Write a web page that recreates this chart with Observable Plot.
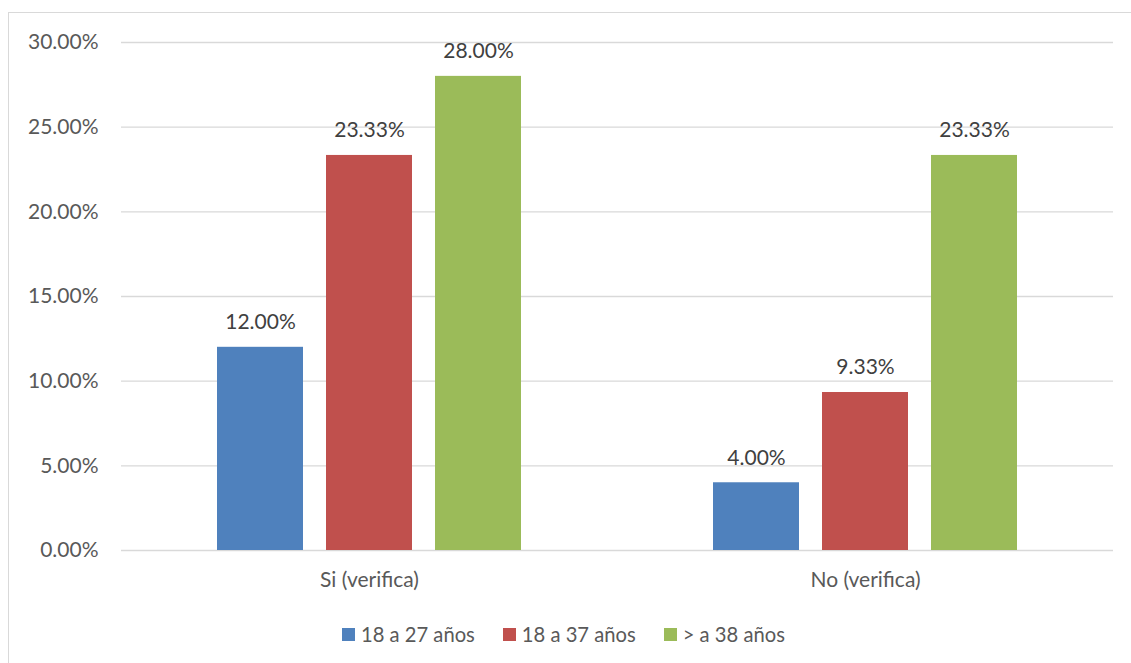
<!DOCTYPE html>
<html><head><meta charset="utf-8">
<script src="https://cdn.jsdelivr.net/npm/d3@7"></script>
<script src="https://cdn.jsdelivr.net/npm/@observablehq/plot@0.6"></script>
<style>
body{margin:0;background:#fff;}
#wrap{position:relative;width:1131px;height:663px;overflow:hidden;font-family:Lato,sans-serif;}
#frame{position:absolute;left:8px;top:12px;width:1200px;height:700px;border:1px solid #D9D9D9;box-sizing:border-box;}
#chart{position:absolute;left:0;top:0;}
#legend{position:absolute;top:622px;left:342px;display:flex;align-items:center;font-size:20.2px;color:#595959;white-space:nowrap;}
.item{display:flex;align-items:center;margin-right:28px;}
.sw{width:13px;height:13px;margin-right:6px;}
</style></head>
<body>
<div id="wrap"><div id="frame"></div><div id="chart"></div><div id="legend"></div></div>
<script>
const categories = ["Si (verifica)", "No (verifica)"];
const series = ["18 a 27 años", "18 a 37 años", "> a 38 años"];
const values18a27 = [12.00, 4.00];
const values18a37 = [23.33, 9.33];
const valuesMas38 = [28.00, 23.33];
const colors = ["#4F81BD", "#C0504D", "#9BBB59"];
const yTicks = [0, 5, 10, 15, 20, 25, 30];

const seriesValues = [values18a27, values18a37, valuesMas38];
const data = [];
categories.forEach((c, i) => series.forEach((s, j) => data.push({category: c, series: s, value: seriesValues[j][i]})));

const fmt = d => d.toFixed(2) + "%";

const chart = Plot.plot({
  width: 1131, height: 600,
  marginLeft: 120, marginRight: 18, marginTop: 42, marginBottom: 50,
  style: {fontFamily: "Lato, sans-serif", fontSize: "21px", color: "#595959", background: "transparent", overflow: "visible"},
  fx: {domain: categories, padding: 0, label: null, axis: "bottom", tickSize: 0, tickPadding: 22},
  x: {domain: series, axis: null, paddingInner: 0.209, paddingOuter: 0.861},
  y: {domain: [0, 30], ticks: yTicks, tickFormat: fmt, tickSize: 0, tickPadding: 23, label: null},
  color: {domain: series, range: colors},
  marks: [
    Plot.ruleY(yTicks, {stroke: "#D9D9D9", strokeWidth: 1.3}),
    Plot.barY(data, {fx: "category", x: "series", y: "value", fill: "series"}),
    Plot.text(data, {fx: "category", x: "series", y: "value", text: d => fmt(d.value), dy: -25, lineAnchor: "middle", fill: "#404040", fontSize: 21})
  ]
});
document.getElementById("chart").appendChild(chart);

const legend = document.getElementById("legend");
series.forEach((s, i) => {
  const it = document.createElement("div");
  it.className = "item";
  const sw = document.createElement("div");
  sw.className = "sw";
  sw.style.background = colors[i];
  const t = document.createElement("span");
  t.textContent = s;
  it.appendChild(sw); it.appendChild(t);
  legend.appendChild(it);
});
</script>
</body></html>
